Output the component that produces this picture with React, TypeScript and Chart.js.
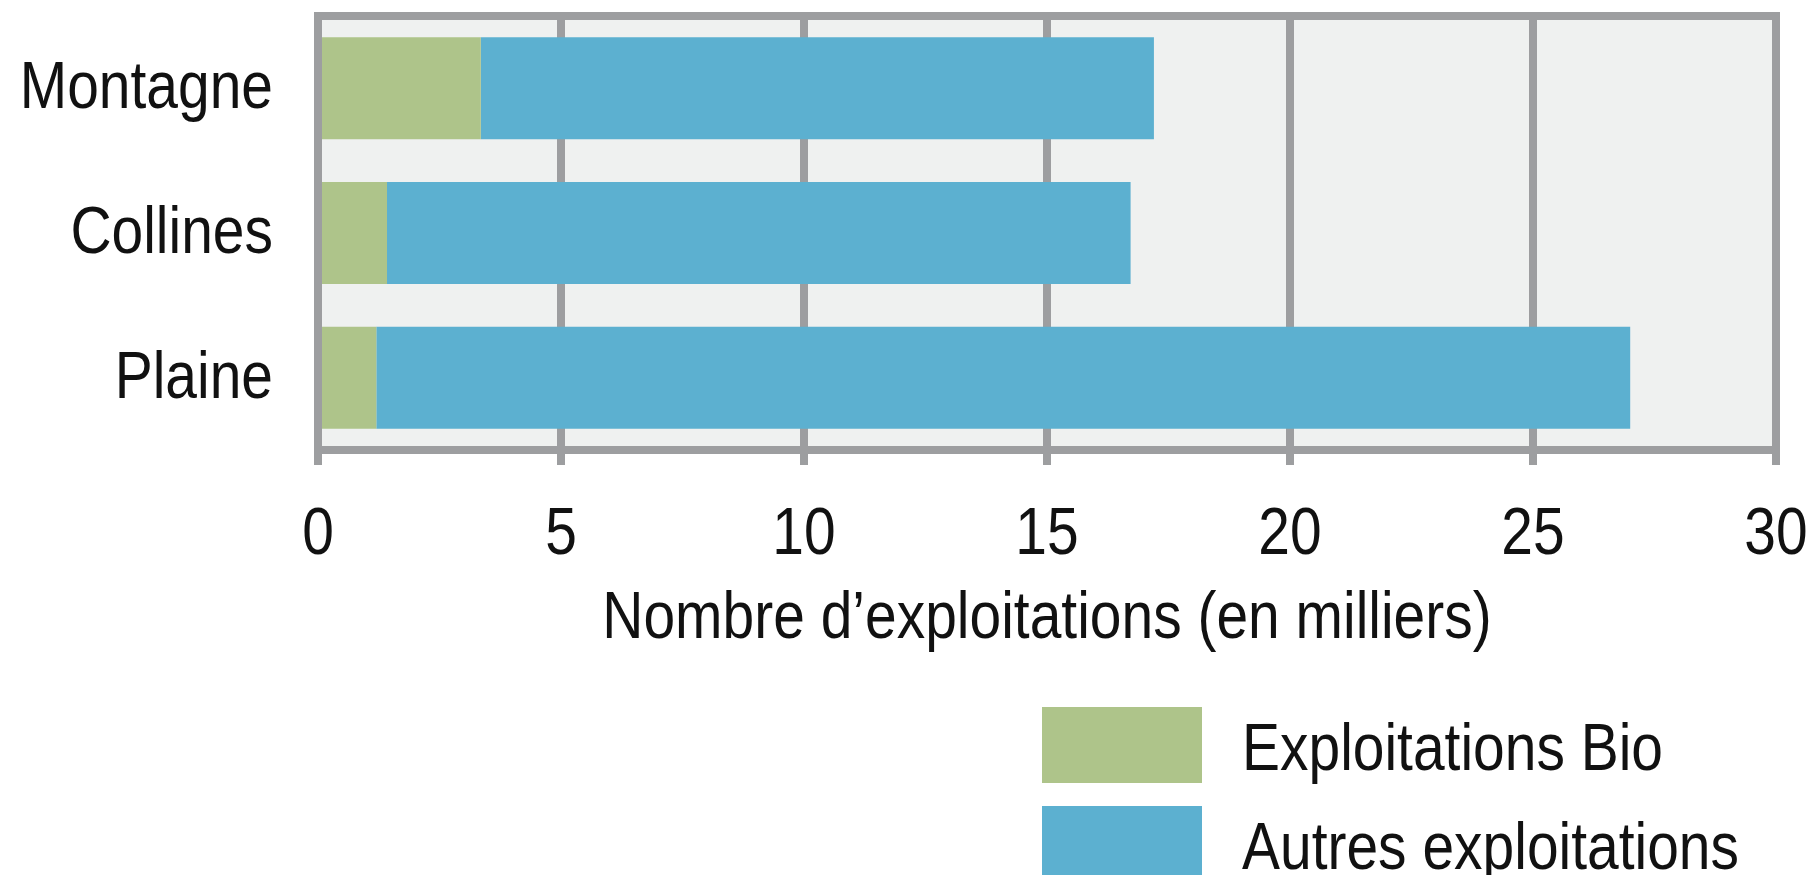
import React, { useEffect, useRef } from "react";
import { Chart, registerables } from "chart.js";

Chart.register(...registerables);

// ---- data ----
const categories = ["Montagne", "Collines", "Plaine"];
const bioValues = [3.35, 1.42, 1.2];
const autresValues = [13.85, 15.3, 25.8];
const seriesLabels = ["Exploitations Bio", "Autres exploitations"];
const xTickValues = [0, 5, 10, 15, 20, 25, 30];
const axisTitle = "Nombre d’exploitations (en milliers)";

// ---- styles ----
const FONT = "'Liberation Sans', Arial, sans-serif";
const FONT_SIZE = 67;
const SCALE_X = 0.85; // condensed look
const GREEN = "#aec48a";
const BLUE = "#5cb0d0";
const GRID = "#9d9ea0";
const BG = "#eff1f0";
const TEXT = "#111111";

function drawText(ctx: CanvasRenderingContext2D, text: string, x: number, y: number, align: CanvasTextAlign) {
  ctx.save();
  ctx.translate(x, y);
  ctx.scale(SCALE_X, 1);
  ctx.font = `${FONT_SIZE}px ${FONT}`;
  ctx.fillStyle = TEXT;
  ctx.textAlign = align;
  ctx.textBaseline = "alphabetic";
  ctx.fillText(text, 0, 0);
  ctx.restore();
}

const framePlugin = {
  id: "frameBg",
  beforeDraw(chart: any) {
    const { ctx, chartArea } = chart;
    const { left, top, right, bottom } = chartArea;
    ctx.save();
    ctx.fillStyle = BG;
    ctx.fillRect(left, top, right - left, bottom - top);
    ctx.restore();
  },
  afterDatasetsDraw(chart: any) {
    const { ctx, chartArea } = chart;
    const { left, top, right, bottom } = chartArea;
    ctx.save();
    ctx.strokeStyle = GRID;
    ctx.lineWidth = 8;
    ctx.strokeRect(left, top, right - left, bottom - top);
    ctx.restore();
  },
};

// axis labels + title drawn with a condensed horizontal scale, positions from the scales
const labelsPlugin = {
  id: "condensedLabels",
  afterDraw(chart: any) {
    const { ctx, chartArea } = chart;
    const xs = chart.scales.x;
    const ys = chart.scales.y;
    // category labels
    (chart.data.labels as string[]).forEach((lab, i) => {
      const y = ys.getPixelForValue(i);
      drawText(ctx, lab, chartArea.left - 45, y + 20, "right");
    });
    // x tick labels
    xs.ticks.forEach((t: any) => {
      const x = xs.getPixelForValue(t.value);
      drawText(ctx, String(t.value), x, chartArea.bottom + 104, "center");
    });
    // axis title
    drawText(ctx, axisTitle, (chartArea.left + chartArea.right) / 2, chartArea.bottom + 188, "center");
  },
};

const stackedLegendPlugin = {
  id: "stackedLegend",
  afterDraw(chart: any) {
    const { ctx } = chart;
    const boxX = 1042;
    const boxY = 707;
    const boxW = 160;
    const boxH = 76;
    const step = 99;
    chart.data.datasets.forEach((ds: any, i: number) => {
      const y = boxY + i * step;
      ctx.save();
      ctx.fillStyle = ds.backgroundColor;
      ctx.fillRect(boxX, y, boxW, boxH);
      ctx.restore();
      drawText(ctx, ds.label, boxX + boxW + 40, y + 63, "left");
    });
  },
};

export default function App() {
  const canvasRef = useRef<HTMLCanvasElement | null>(null);

  useEffect(() => {
    document.body.style.margin = "0";
    const canvas = canvasRef.current;
    if (!canvas) return;

    const chart = new Chart(canvas, {
      type: "bar",
      data: {
        labels: categories,
        datasets: [
          {
            label: seriesLabels[0],
            data: bioValues,
            backgroundColor: GREEN,
            borderWidth: 0,
            barPercentage: 0.705,
            categoryPercentage: 1,
          },
          {
            label: seriesLabels[1],
            data: autresValues,
            backgroundColor: BLUE,
            borderWidth: 0,
            barPercentage: 0.705,
            categoryPercentage: 1,
          },
        ],
      },
      options: {
        indexAxis: "y",
        responsive: false,
        maintainAspectRatio: false,
        animation: false,
        events: [],
        layout: {
          padding: { top: 16, right: 42, left: 0, bottom: 226 },
        },
        plugins: {
          legend: { display: false },
          tooltip: { enabled: false },
          title: { display: false },
        },
        scales: {
          x: {
            type: "linear",
            stacked: true,
            min: 0,
            max: 30,
            afterBuildTicks: (scale: any) => {
              scale.ticks = xTickValues.map((v) => ({ value: v }));
            },
            afterFit: (scale: any) => {
              scale.height = 199;
              scale.paddingLeft = 0;
              scale.paddingRight = 0;
            },
            grid: {
              color: GRID,
              lineWidth: 8,
              drawTicks: true,
              tickLength: 15,
              drawOnChartArea: true,
            },
            border: { display: false },
            ticks: { display: false },
            title: { display: false },
          },
          y: {
            type: "category",
            stacked: true,
            afterFit: (scale: any) => {
              scale.width = 318;
              scale.paddingTop = 0;
              scale.paddingBottom = 0;
            },
            grid: { display: false, drawTicks: false },
            border: { display: false },
            ticks: { display: false },
          },
        },
      },
      plugins: [framePlugin, labelsPlugin, stackedLegendPlugin],
    } as any);

    return () => {
      chart.destroy();
    };
  }, []);

  return (
    <div style={{ width: 1818, height: 875, position: "relative", background: "#ffffff" }}>
      <canvas ref={canvasRef} width={1818} height={875} style={{ display: "block" }} />
    </div>
  );
}
